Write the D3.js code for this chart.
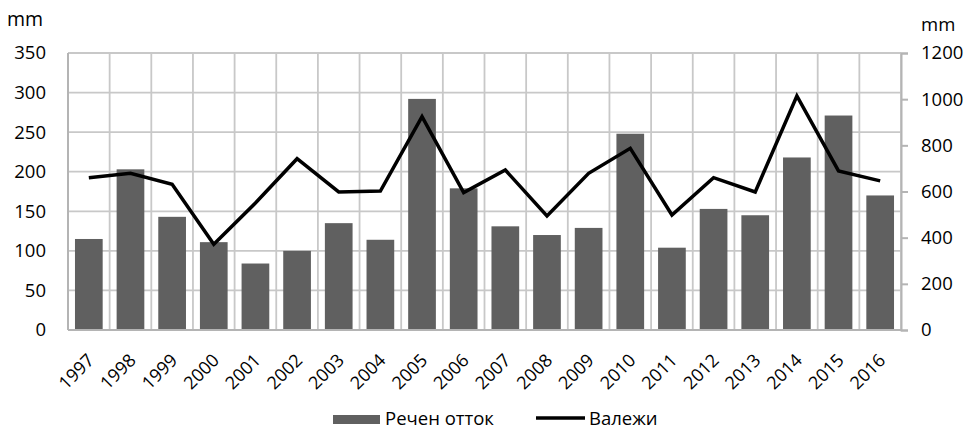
<!DOCTYPE html>
<html>
<head>
<meta charset="utf-8">
<script src="https://cdn.jsdelivr.net/npm/d3@7"></script>
<style>
  html, body { margin: 0; padding: 0; background: #fff; }
  svg { display: block; font-family: "Open Sans", sans-serif; }
</style>
</head>
<body>
<svg id="chart" width="972" height="429"></svg>
<script>
// Годишни стойности, mm
const years = ["1997","1998","1999","2000","2001","2002","2003","2004","2005","2006",
               "2007","2008","2009","2010","2011","2012","2013","2014","2015","2016"];
const runoff = [115, 203, 143, 111, 84, 100, 135, 114, 292, 179,
                131, 120, 129, 248, 104, 153, 145, 218, 271, 170];
const precipitation = [660, 679, 631, 371, 550, 742, 598, 602, 924, 595,
                       693, 494, 679, 787, 498, 660, 598, 1014, 689, 646];
const leftTicks = [0, 50, 100, 150, 200, 250, 300, 350];
const rightTicks = [0, 200, 400, 600, 800, 1000, 1200];
const seriesNames = ["Речен отток", "Валежи"];
const unitLabel = "mm";

const svg = d3.select("#chart");
const plot = { left: 68, right: 901, top: 53, bottom: 330 };

const xCat = d3.scaleBand().domain(years).range([plot.left, plot.right]);
const xBar = d3.scaleBand().domain(years).range([plot.left, plot.right])
  .paddingInner(0.335).paddingOuter(0.1675);
const yLeft = d3.scaleLinear().domain([0, 350]).range([plot.bottom, plot.top]);
const yRight = d3.scaleLinear().domain([0, 1200]).range([plot.bottom, plot.top]);

const gridColor = "#c8c8c8";
const axisColor = "#b4b4b4";
const barColor = "#606060";

// Хоризонтална мрежа
svg.append("g").selectAll("line").data(leftTicks).join("line")
  .attr("x1", plot.left).attr("x2", plot.right)
  .attr("y1", d => yLeft(d)).attr("y2", d => yLeft(d))
  .attr("stroke", gridColor).attr("stroke-width", 1.8);

// Вертикална мрежа по границите на категориите
const bounds = years.map(d => xCat(d)).concat([plot.right]);
svg.append("g").selectAll("line").data(bounds).join("line")
  .attr("x1", d => d).attr("x2", d => d)
  .attr("y1", plot.top).attr("y2", plot.bottom)
  .attr("stroke", gridColor).attr("stroke-width", 1.8);

// Колони – речен отток
svg.append("g").selectAll("rect").data(years).join("rect")
  .attr("x", d => xBar(d))
  .attr("width", xBar.bandwidth())
  .attr("y", (d, i) => yLeft(runoff[i]))
  .attr("height", (d, i) => plot.bottom - yLeft(runoff[i]))
  .attr("fill", barColor);

// Оси
svg.append("line").attr("x1", plot.left).attr("x2", plot.left)
  .attr("y1", plot.top).attr("y2", plot.bottom)
  .attr("stroke", axisColor).attr("stroke-width", 2);
svg.append("line").attr("x1", plot.left).attr("x2", plot.right)
  .attr("y1", plot.bottom).attr("y2", plot.bottom)
  .attr("stroke", axisColor).attr("stroke-width", 2);

// Дясна ос с външни чертички
const rightAxis = d3.axisRight(yRight).tickValues(rightTicks).tickSize(7).tickPadding(13)
  .tickFormat(d3.format("d"));
const gR = svg.append("g").attr("transform", `translate(${plot.right},0)`).call(rightAxis);
gR.select(".domain").attr("stroke", axisColor).attr("stroke-width", 2);
gR.selectAll(".tick line").attr("stroke", axisColor).attr("stroke-width", 2);
gR.selectAll(".tick text").attr("fill", "#000").attr("font-size", "18.5px")
  .attr("font-family", "Open Sans, sans-serif");

// Лява ос – само надписи
const leftAxis = d3.axisLeft(yLeft).tickValues(leftTicks).tickSize(0).tickPadding(22)
  .tickFormat(d3.format("d"));
const gL = svg.append("g").attr("transform", `translate(${plot.left},0)`).call(leftAxis);
gL.select(".domain").remove();
gL.selectAll(".tick text").attr("fill", "#000").attr("font-size", "18.5px")
  .attr("font-family", "Open Sans, sans-serif");

// Линия – валежи
const line = d3.line()
  .x((d, i) => xCat(years[i]) + xCat.bandwidth() / 2)
  .y(d => yRight(d));
svg.append("path").datum(precipitation)
  .attr("d", line)
  .attr("fill", "none").attr("stroke", "#000")
  .attr("stroke-width", 3.5).attr("stroke-linejoin", "miter");

// Години под оста, завъртени на 45°
svg.append("g").selectAll("text").data(years).join("text")
  .attr("transform", d => `translate(${xCat(d) + xCat.bandwidth() / 2 + 2},357) rotate(-45)`)
  .attr("text-anchor", "end")
  .attr("dy", "0.35em")
  .attr("font-size", "18px")
  .attr("fill", "#000")
  .text(d => d);

// Мерни единици
svg.append("text").attr("x", 7).attr("y", 25.5).attr("font-size", "19.5px").text(unitLabel);
svg.append("text").attr("x", 921).attr("y", 30.5).attr("font-size", "18.5px").text(unitLabel);

// Легенда
const lg = svg.append("g");
lg.append("rect").attr("x", 333).attr("y", 415).attr("width", 47).attr("height", 9).attr("fill", barColor);
lg.append("text").attr("x", 385).attr("y", 425).attr("font-size", "18.5px").text(seriesNames[0]);
lg.append("line").attr("x1", 536).attr("x2", 585).attr("y1", 418).attr("y2", 418)
  .attr("stroke", "#000").attr("stroke-width", 3.5);
lg.append("text").attr("x", 589).attr("y", 425).attr("font-size", "18.5px").text(seriesNames[1]);
</script>
</body>
</html>
